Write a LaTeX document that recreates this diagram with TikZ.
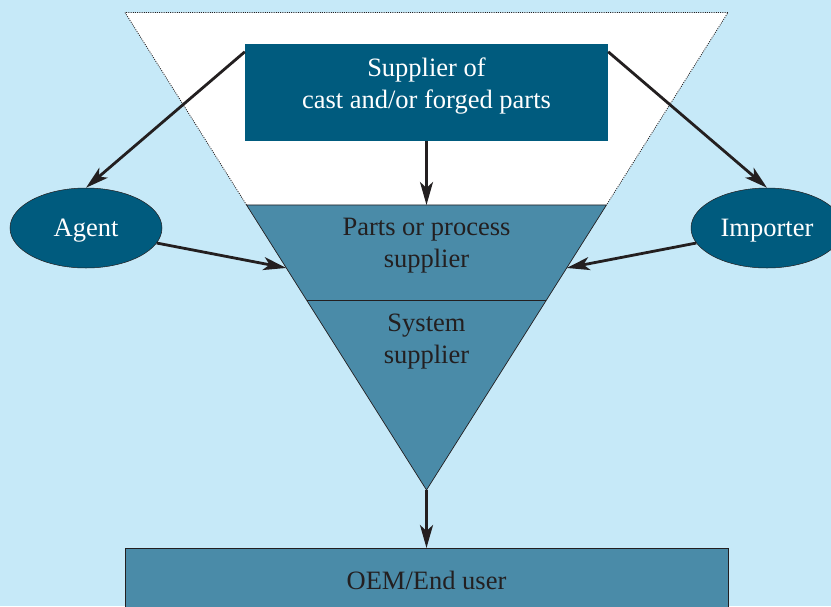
\documentclass[tikz,border=0pt]{standalone}
\usepackage{fontspec}
\setmainfont{Liberation Serif}
\usepackage{xcolor}
\usepackage{tikz}
\usetikzlibrary{arrows.meta,positioning,calc,shapes.geometric}
\definecolor{skybg}{RGB}{198,233,248}
\definecolor{darkteal}{RGB}{0,91,126}
\definecolor{midteal}{RGB}{74,139,168}
\definecolor{inkgray}{RGB}{35,31,32}

\begin{document}
\begin{tikzpicture}[
    x=1pt, y=-1pt,
    >={Stealth[length=23pt,width=13pt,inset=6pt]},
    txt/.style={font=\rmfamily\fontsize{26.5}{32}\selectfont, align=center, inner sep=0pt},
    darkbox/.style={fill=darkteal, minimum width=363pt, minimum height=97pt, inner sep=0pt},
    oval/.style={ellipse, draw=inkgray, line width=0.5pt, fill=darkteal, text=white, minimum width=152pt, minimum height=80pt, inner sep=0pt, text depth=0pt},
    tierfill/.style={fill=midteal, draw=inkgray, line width=0.7pt},
    dotedge/.style={draw=inkgray, line width=0.8pt, dash pattern=on 1pt off 1.2pt},
    flow/.style={->, draw=inkgray, fill=inkgray, line width=2.8pt}
]
\fill[skybg] (0,0) rectangle (831,606);
\useasboundingbox (0,0) rectangle (831,606);
% funnel outline
\coordinate (tl) at (125,12.5);
\coordinate (tr) at (728,12.5);
\coordinate (apex) at (426.5,490);
\coordinate (l1) at ($(tl)!0.4031!(apex)$);
\coordinate (r1) at ($(tr)!0.4031!(apex)$);
\coordinate (l2) at ($(tl)!0.6021!(apex)$);
\coordinate (r2) at ($(tr)!0.6021!(apex)$);
\coordinate (lhit) at ($(l1)!0.221!(apex)$);
\coordinate (rhit) at ($(r1)!0.221!(apex)$);
\coordinate (tiertop) at ($(l1)!0.5!(r1)$);
\fill[white] (tl) -- (tr) -- (r1) -- (l1) -- cycle;
\draw[dotedge] (l1) -- (tl) -- (tr) -- (r1);
\draw[tierfill] (l1) -- (r1) -- (apex) -- cycle;
\draw[inkgray, line width=0.7pt] (l2) -- (r2);
\node[txt, text=inkgray] (parts) at (426.5,246) {Parts or process\\supplier};
\node[txt, text=inkgray] (system) at (426.5,342) {System\\supplier};
% top box and side ellipses
\node[darkbox] (supplier) at (426.5,92.5) {};
\node[txt, text=white, yshift=6pt] (suppliertext) at (supplier) {Supplier of\\cast and/or forged parts};
\node[oval, txt] (agent) at (86,228) {Agent};
\node[oval, txt] (importer) at (767,228) {Importer};
% end user box
\draw[tierfill] (125,548) rectangle (728,650);
\coordinate (oemtop) at (426.5,548);
\node[txt, text=inkgray] (oem) at (426.5,580) {OEM/End user};
% connectors
\draw[flow] ($(supplier.north west)+(0,8)$) -- (agent.north);
\draw[flow] ($(supplier.north east)+(0,8)$) -- (importer.north);
\draw[flow] (supplier.south) -- (tiertop);
\draw[flow] (agent.-12) -- (lhit);
\draw[flow] (importer.-168) -- (rhit);
\draw[flow] (apex) -- (oemtop);
\end{tikzpicture}
\end{document}
